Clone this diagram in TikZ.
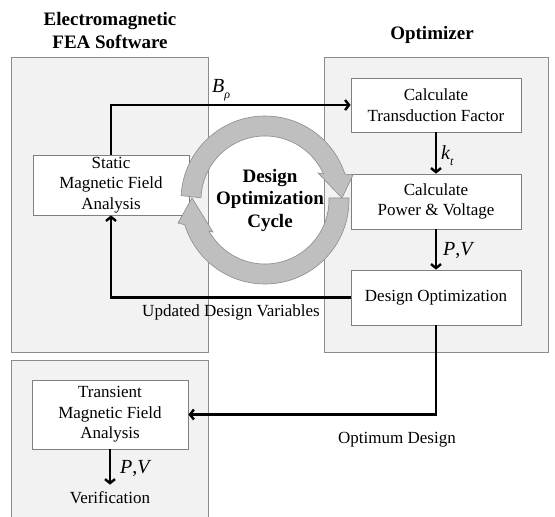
\documentclass[tikz,border=0pt]{standalone}
\usepackage{fontspec}
\setmainfont{Liberation Serif}
\usetikzlibrary{arrows.meta,shadows}
\definecolor{panelfill}{HTML}{F2F2F2}
\definecolor{paneldraw}{HTML}{8C8C8C}
\definecolor{boxdraw}{HTML}{7F7F7F}
\definecolor{ringfill}{HTML}{BFBFBF}
\definecolor{ringdraw}{HTML}{8C8C8C}
\begin{document}
\begin{tikzpicture}[x=1pt,y=-1pt,
  panel/.style={fill=panelfill,draw=paneldraw,line width=0.8pt},
  box/.style={draw=boxdraw,fill=white,line width=0.8pt,align=center,inner sep=0pt,
    font=\fontsize{17}{20.5}\selectfont,
    drop shadow={shadow xshift=1.2pt,shadow yshift=-1.2pt,opacity=0.3,fill=black}},
  lbl/.style={inner sep=0pt,font=\fontsize{17}{20.5}\selectfont,align=center},
  head/.style={inner sep=0pt,font=\fontsize{19}{23}\selectfont\bfseries,align=center},
  mlbl/.style={inner sep=0pt,anchor=west,font=\fontsize{20}{22}\selectfont\itshape},
  conn/.style={line width=2.4pt,-{Straight Barb[length=4pt,width=10pt]}},
  ring/.style={fill=ringfill,draw=ringdraw,line width=0.6pt,line join=miter}
]
\useasboundingbox (0,0) rectangle (555,517);
\fill[white] (0,0) rectangle (555,517);
\begin{scope}
\clip (0,0) rectangle (555,517);
\draw[panel] (11.5,57) rectangle (208.5,352.5);
\draw[panel] (324,57) rectangle (548.5,352.5);
\draw[panel] (11.5,360) rectangle (208.5,530);
\end{scope}

\node[head] (hfea) at (110,30) {Electromagnetic\\FEA Software};
\node[head] (hopt) at (432,35) {Optimizer};

\node[box,minimum width=156pt,minimum height=60pt] (static) at (111,185) {Static\\Magnetic Field\\Analysis};
\node[box,minimum width=170pt,minimum height=54pt] (transd) at (436,105) {Calculate\\Transduction Factor};
\node[box,minimum width=170pt,minimum height=55pt] (power) at (436,201.5) {Calculate\\Power \& Voltage};
\node[box,minimum width=170pt,minimum height=55pt] (desopt) at (436,297.5) {Design Optimization};
\node[box,minimum width=156pt,minimum height=69pt] (trans) at (110,414.5) {Transient\\Magnetic Field\\Analysis};
\node[lbl] (verif) at (110,498) {Verification};

\draw[conn] (static.north) |- (transd.west);
\draw[conn] (transd.south) -- (power.north);
\draw[conn] (power.south) -- (desopt.north);
\draw[conn] (desopt.west) -| (static.south);
\draw[conn] (desopt.south) |- (trans.east);
\draw[conn,shorten >=7pt] (trans.south) -- (verif.north);

\node[mlbl] (lb) at (212,90) {B\raisebox{-6pt}{\fontsize{12}{12}\selectfont ρ}};
\node[mlbl] (lk) at (441,156) {k\raisebox{-6pt}{\fontsize{12}{12}\selectfont t}};
\node[mlbl] (lpv1) at (443,250) {P\upshape,\itshape V};
\node[mlbl] (lpv2) at (120,468) {P\upshape,\itshape V};
\node[lbl] (lupd) at (231,312) {Updated Design Variables};
\node[lbl] (lopt) at (397,440) {Optimum Design};

\begin{scope}[shift={(265,200)},yscale=-1]
% upper arc, head pointing down at the right
\draw[ring] (177:84) arc[start angle=177,end angle=18,radius=84] -- (88,25) -- (77,2) -- (53,27) -- (24:64) arc[start angle=24,end angle=178,radius=64] -- cycle;
% lower arc, head pointing up at the left
\draw[ring] (1.4:84) arc[start angle=1.4,end angle=-162.9,radius=84] -- (-87,-23) -- (-73,2) -- (-52,-32) -- (-151:64) arc[start angle=-151,end angle=1.8,radius=64] -- cycle;
\end{scope}
\node[head,font=\fontsize{19}{22.5}\selectfont\bfseries] (cyc) at (270,200) {Design\\Optimization\\Cycle};
\end{tikzpicture}
\end{document}
